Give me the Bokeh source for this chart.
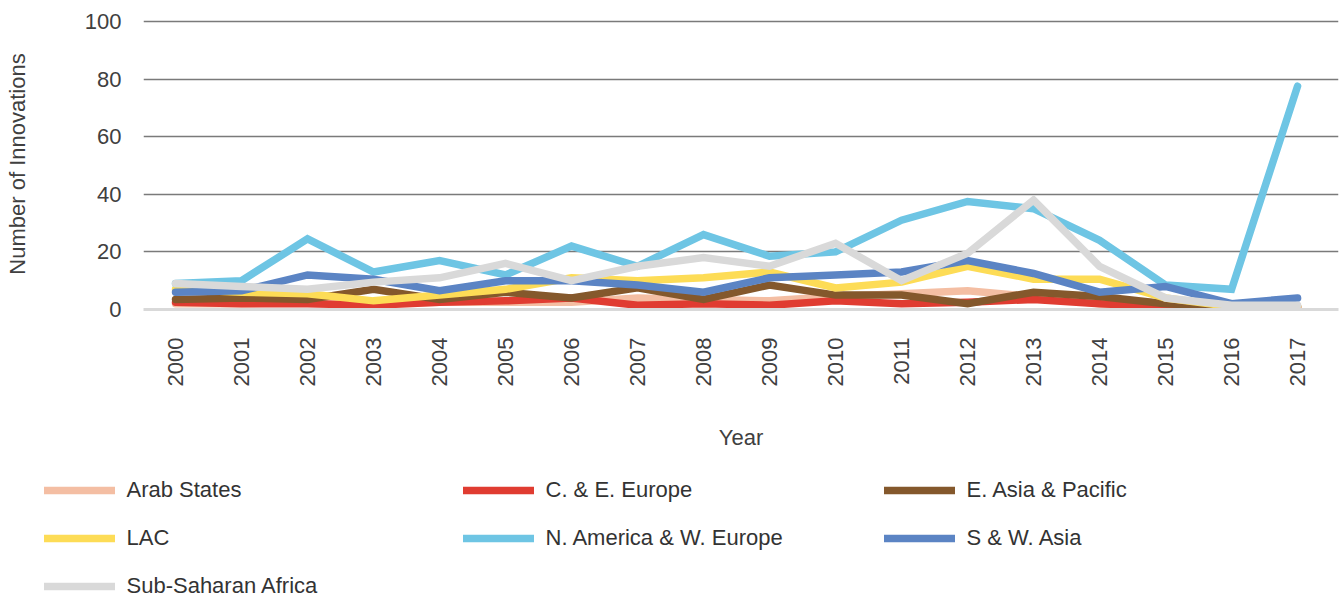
from bokeh.plotting import figure
from bokeh.models import Range1d, Legend, LegendItem, FixedTicker, ColumnDataSource
from bokeh.embed import file_html
from bokeh.resources import INLINE
import math

years = ["2000", "2001", "2002", "2003", "2004", "2005", "2006", "2007", "2008",
         "2009", "2010", "2011", "2012", "2013", "2014", "2015", "2016", "2017"]
arab_states = [2, 2, 2.5, 2, 2.5, 2.5, 2.5, 4, 3.5, 3, 4.5, 5.5, 6.5, 4.5, 2, 1, 0.5, 0.5]
ce_europe = [2.5, 2, 2, 1.5, 2.5, 3, 4, 1.5, 2, 1.5, 3, 2, 2.5, 3.5, 2, 1, 0.5, 0.5]
e_asia_pacific = [3.5, 4, 3.5, 7, 3.5, 6, 4, 7.5, 3.5, 8.5, 5, 5, 2, 6, 4.5, 2, 1, 1]
lac = [7, 6, 5.5, 3, 5, 7, 11, 10, 11, 13, 7.5, 9.5, 15, 10.5, 10.5, 4, 1, 1]
na_w_europe = [9, 10, 24.5, 13, 17, 12, 22, 15, 26, 18.5, 20, 31, 37.5, 35, 24, 8.5, 7, 77.5]
s_w_asia = [6, 6.5, 12, 10.5, 6.5, 10, 10, 8.5, 6, 11, 12, 13, 17, 12.5, 6, 8, 2, 4]
sub_saharan = [9, 8, 7, 9.5, 11, 16, 10, 15, 18, 15, 23, 10, 19.5, 38, 15, 4, 1.5, 1.5]

series_names = ["Arab States", "C. & E. Europe", "E. Asia & Pacific", "LAC",
                "N. America & W. Europe", "S & W. Asia", "Sub-Saharan Africa"]
series_values = [arab_states, ce_europe, e_asia_pacific, lac, na_w_europe, s_w_asia, sub_saharan]
series_colors = ["#F4BEA3", "#E03C31", "#84582C", "#FDDC56", "#6EC5E4", "#5B84C4", "#D9D9D9"]

FONT = "Liberation Sans"
TXT = "#404040"
FS = "22px"

x_idx = list(range(len(years)))

# ---------------- main chart ----------------
W = 1340
MAIN_H = 460
p = figure(width=W, height=MAIN_H, output_backend="svg", toolbar_location=None,
           x_range=Range1d(-0.485, 17.62), y_range=Range1d(0, 101),
           min_border_left=143, min_border_right=2, min_border_top=18,
           min_border_bottom=MAIN_H - 309)
p.outline_line_color = None

for name, vals, col in zip(series_names, series_values, series_colors):
    src = ColumnDataSource(dict(x=x_idx, y=vals))
    p.line("x", "y", source=src, line_color=col, line_width=7.5,
           line_cap="round", line_join="miter")

p.xgrid.grid_line_color = None
p.ygrid.grid_line_color = "#7A7A7A"
p.ygrid.grid_line_width = 1.3
p.ygrid.ticker = FixedTicker(ticks=[0, 20, 40, 60, 80, 100])

p.yaxis.ticker = FixedTicker(ticks=[0, 20, 40, 60, 80, 100])
p.yaxis.axis_line_color = None
p.yaxis.major_tick_line_color = None
p.yaxis.minor_tick_line_color = None
p.yaxis.major_tick_out = 0
p.yaxis.major_tick_in = 0
p.yaxis.major_label_standoff = 22
p.yaxis.major_label_text_font = FONT
p.yaxis.major_label_text_font_size = FS
p.yaxis.major_label_text_color = TXT
p.yaxis.axis_label = "Number of Innovations"
p.yaxis.axis_label_text_font = FONT
p.yaxis.axis_label_text_font_size = FS
p.yaxis.axis_label_text_font_style = "normal"
p.yaxis.axis_label_text_color = TXT
p.yaxis.axis_label_standoff = 52

p.xaxis.ticker = FixedTicker(ticks=x_idx)
p.xaxis.major_label_overrides = {i: y for i, y in zip(x_idx, years)}
p.xaxis.major_label_orientation = math.pi / 2
p.xaxis.axis_line_color = "#D9D9D9"
p.xaxis.axis_line_width = 3
p.xaxis.major_tick_line_color = None
p.xaxis.minor_tick_line_color = None
p.xaxis.major_tick_out = 0
p.xaxis.major_tick_in = 0
p.xaxis.major_label_standoff = 28
p.xaxis.major_label_text_font = FONT
p.xaxis.major_label_text_font_size = FS
p.xaxis.major_label_text_color = TXT
p.xaxis.axis_label = "Year"
p.xaxis.axis_label_text_font = FONT
p.xaxis.axis_label_text_font_size = FS
p.xaxis.axis_label_text_font_style = "normal"
p.xaxis.axis_label_text_color = TXT
p.xaxis.axis_label_standoff = 36

# ---------------- legend strip ----------------
LEG_H = 138
lg = figure(width=W, height=LEG_H, output_backend="svg", toolbar_location=None,
            x_range=Range1d(0, 1), y_range=Range1d(0, 1),
            x_axis_type=None, y_axis_type=None,
            min_border_left=0, min_border_right=0, min_border_top=0, min_border_bottom=0)
lg.outline_line_color = None
lg.xgrid.grid_line_color = None
lg.ygrid.grid_line_color = None

leg_renderers = []
for name, vals, col in zip(series_names, series_values, series_colors):
    src = ColumnDataSource(dict(x=[v + 100 for v in x_idx], y=vals))
    r = lg.line("x", "y", source=src, line_color=col, line_width=7.5, line_cap="round")
    leg_renderers.append(r)

ROW_H = 48
TOP = 6
columns = [[0, 3, 6], [1, 4], [2, 5]]
col_x = [43.5, 462.5, 883.5]
for idxs, vx in zip(columns, col_x):
    items = [LegendItem(label=series_names[i], renderers=[leg_renderers[i]]) for i in idxs]
    n = len(idxs)
    vy = LEG_H - (TOP + n * ROW_H)
    leg = Legend(items=items, orientation="vertical", location=(vx, vy),
                 margin=0, padding=0, spacing=0,
                 glyph_width=71, glyph_height=ROW_H, label_height=ROW_H,
                 label_standoff=12, label_text_font=FONT, label_text_font_size=FS,
                 label_text_color="#333333",
                 background_fill_alpha=0, border_line_color=None)
    lg.add_layout(leg, "center")

open("out.html", "w").write(file_html([p, lg], INLINE))
